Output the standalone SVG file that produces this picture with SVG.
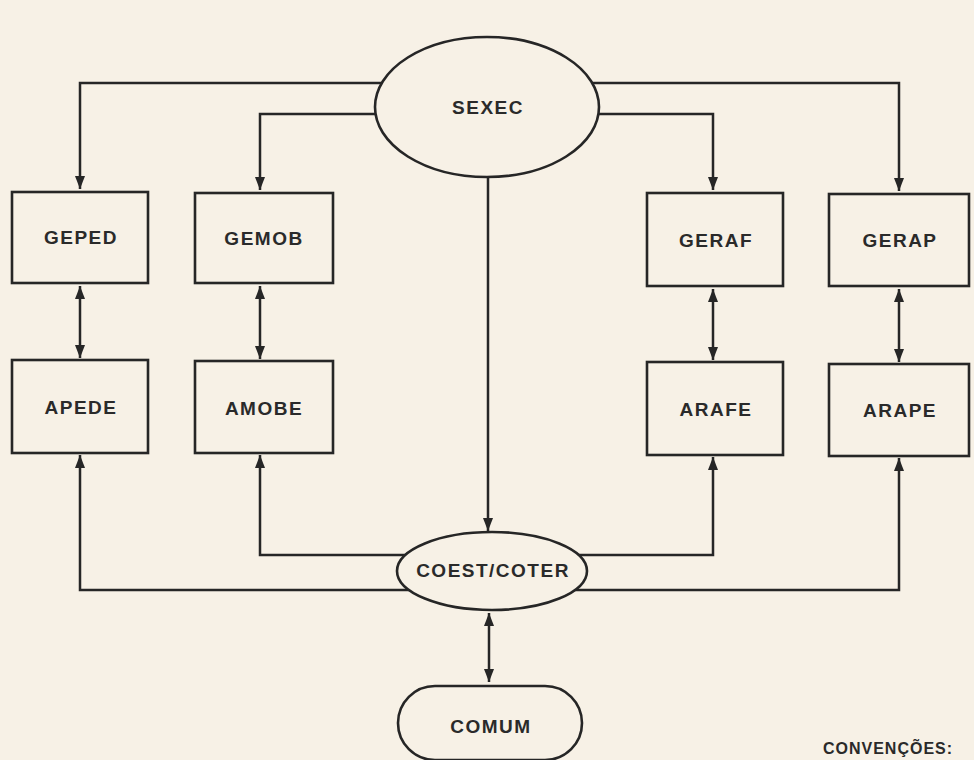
<svg xmlns="http://www.w3.org/2000/svg" width="974" height="760" viewBox="0 0 974 760">
  <defs>
    <marker id="arrow" viewBox="0 0 13 10" refX="13" refY="5" markerWidth="13" markerHeight="10" markerUnits="userSpaceOnUse" orient="auto-start-reverse">
      <path d="M0,0 L13,5 L0,10 Z" fill="#262626"/>
    </marker>
    <style>
      .bg { fill: #f7f1e6; }
      .edge { fill: none; stroke: #262626; stroke-width: 2.5; }
      .shape { fill: #f7f1e6; stroke: #262626; stroke-width: 2.6; }
      .label { font-family: "Liberation Sans", Arial, sans-serif; font-weight: bold; font-size: 19px; letter-spacing: 1.5px; fill: #2a2a2a; text-anchor: middle; dominant-baseline: central; }
    </style>
  </defs>

  <rect class="bg" x="0" y="0" width="974" height="760"/>

  <!-- connectors -->
  <g id="connectors">
    <!-- SEXEC to the four management units -->
    <path class="edge" d="M420,83 H80 V189" marker-end="url(#arrow)"/>
    <path class="edge" d="M420,114 H260 V190" marker-end="url(#arrow)"/>
    <path class="edge" d="M560,114 H713 V190" marker-end="url(#arrow)"/>
    <path class="edge" d="M560,83 H899 V191" marker-end="url(#arrow)"/>
    <!-- SEXEC to COEST/COTER -->
    <path class="edge" d="M488,175 V531" marker-end="url(#arrow)"/>
    <!-- management unit <-> area -->
    <path class="edge" d="M80,286 V358" marker-start="url(#arrow)" marker-end="url(#arrow)"/>
    <path class="edge" d="M260,286 V359" marker-start="url(#arrow)" marker-end="url(#arrow)"/>
    <path class="edge" d="M713,289 V360" marker-start="url(#arrow)" marker-end="url(#arrow)"/>
    <path class="edge" d="M899,289 V362" marker-start="url(#arrow)" marker-end="url(#arrow)"/>
    <!-- COEST/COTER to the four areas -->
    <path class="edge" d="M480,555 H260 V455" marker-end="url(#arrow)"/>
    <path class="edge" d="M500,555 H713 V457" marker-end="url(#arrow)"/>
    <path class="edge" d="M480,590 H80 V455" marker-end="url(#arrow)"/>
    <path class="edge" d="M500,590 H899 V458" marker-end="url(#arrow)"/>
    <!-- COEST/COTER <-> COMUM -->
    <path class="edge" d="M489,613 V682" marker-start="url(#arrow)" marker-end="url(#arrow)"/>
  </g>

  <g id="sexec">
    <ellipse class="shape" cx="487" cy="107" rx="112" ry="70"/>
    <text class="label" x="488" y="107">SEXEC</text>
  </g>

  <g id="geped">
    <rect class="shape" x="12" y="192" width="136" height="91"/>
    <text class="label" x="81" y="237">GEPED</text>
  </g>
  <g id="gemob">
    <rect class="shape" x="195" y="193" width="138" height="90"/>
    <text class="label" x="264" y="238">GEMOB</text>
  </g>
  <g id="geraf">
    <rect class="shape" x="647" y="193" width="136" height="93"/>
    <text class="label" x="716" y="240">GERAF</text>
  </g>
  <g id="gerap">
    <rect class="shape" x="829" y="194" width="140" height="92"/>
    <text class="label" x="900" y="240">GERAP</text>
  </g>

  <g id="apede">
    <rect class="shape" x="12" y="360" width="136" height="93"/>
    <text class="label" x="81" y="407">APEDE</text>
  </g>
  <g id="amobe">
    <rect class="shape" x="195" y="361" width="138" height="92"/>
    <text class="label" x="264" y="408">AMOBE</text>
  </g>
  <g id="arafe">
    <rect class="shape" x="647" y="362" width="136" height="93"/>
    <text class="label" x="716" y="409">ARAFE</text>
  </g>
  <g id="arape">
    <rect class="shape" x="829" y="364" width="140" height="92"/>
    <text class="label" x="900" y="410">ARAPE</text>
  </g>

  <g id="coest-coter">
    <ellipse class="shape" cx="492" cy="571" rx="95" ry="39"/>
    <text class="label" x="493" y="570">COEST/COTER</text>
  </g>

  <g id="comum">
    <rect class="shape" x="398" y="686" width="184" height="74" rx="37" ry="37"/>
    <text class="label" x="491" y="726">COMUM</text>
  </g>

  <g id="legend">
    <text class="label" x="888" y="748" style="font-size:16px;letter-spacing:1px">CONVENÇÕES:</text>
  </g>
</svg>
